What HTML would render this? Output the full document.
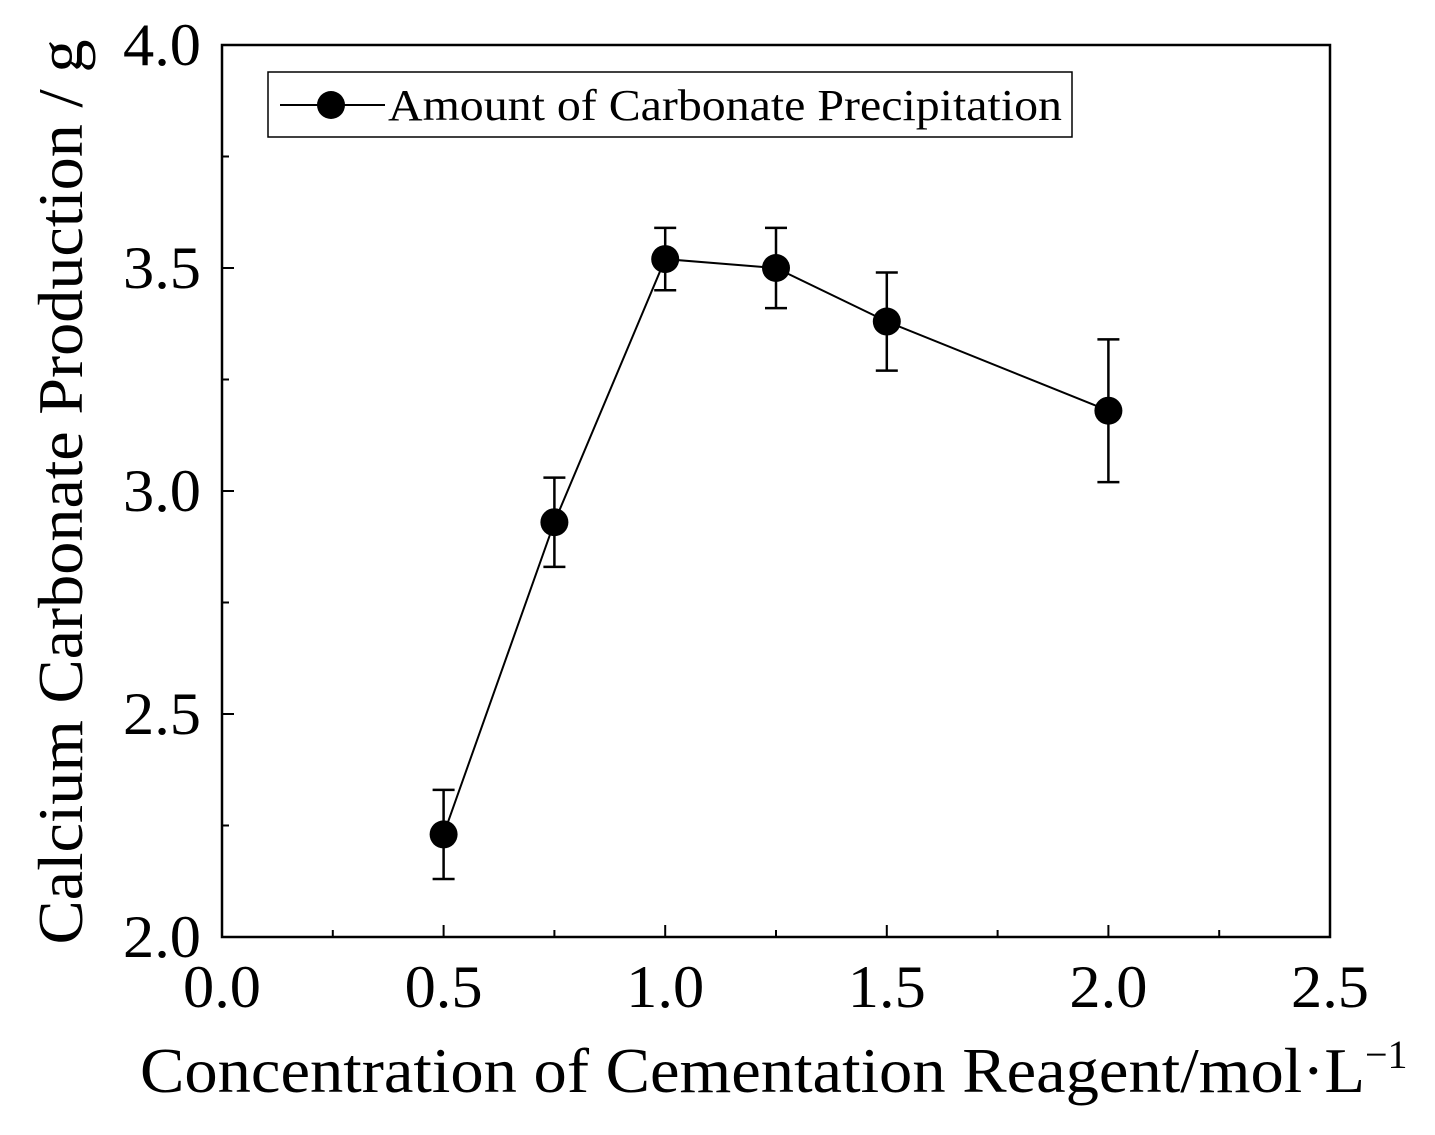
<!DOCTYPE html>
<html><head><meta charset="utf-8"><style>
html,body{margin:0;padding:0;background:#fff}
svg{display:block;font-family:"Liberation Serif",serif}
</style></head><body>
<svg width="1435" height="1135" viewBox="0 0 1435 1135">
<g id="plot"></g>
</svg>
<script>
const xs = [0.5, 0.75, 1.0, 1.25, 1.5, 2.0];
const ys = [2.23, 2.93, 3.52, 3.50, 3.38, 3.18];
const errs = [0.10, 0.10, 0.07, 0.09, 0.11, 0.16];
const xTicks = ["0.0","0.5","1.0","1.5","2.0","2.5"];
const yTicks = ["2.0","2.5","3.0","3.5","4.0"];
const L=222,R=1330,T=45,B=937;
const sx=v=>L+(v-0)/2.5*(R-L);
const sy=v=>B-(v-2)/2*(B-T);
const NS="http://www.w3.org/2000/svg";
const g=document.getElementById('plot');
function mk(tag,attrs,parent){const e=document.createElementNS(NS,tag);for(const k in attrs)e.setAttribute(k,attrs[k]);(parent||g).appendChild(e);return e;}
const frame=mk('rect',{x:L,y:T,width:R-L,height:B-T,fill:'none',stroke:'#000','stroke-width':2.5});


for(let i=0;i<=10;i++){const v=i*0.25;const X=sx(v);const len=i%2==0?12:7;
 const t=mk('line',{x1:X,y1:B,x2:X,y2:B-len,stroke:'#000','stroke-width':2});
 
 }
xTicks.forEach(s=>{const t=mk('text',{x:sx(parseFloat(s)),y:1007,'text-anchor':'middle','font-size':60,textLength:78,lengthAdjust:'spacingAndGlyphs'});t.textContent=s;
 
 });
for(let i=0;i<=8;i++){const v=2+i*0.25;const Y=sy(v);const len=i%2==0?12:7;
 const t=mk('line',{x1:L,y1:Y,x2:L+len,y2:Y,stroke:'#000','stroke-width':2});
 
 }
yTicks.forEach(s=>{const t=mk('text',{x:201,y:sy(parseFloat(s))+20,'text-anchor':'end','font-size':60,textLength:78,lengthAdjust:'spacingAndGlyphs'});t.textContent=s;
 
 });
const pts=xs.map((x,i)=>sx(x)+','+sy(ys[i])).join(' ');
const pl=mk('polyline',{points:pts,fill:'none',stroke:'#000','stroke-width':2});


xs.forEach((x,i)=>{const X=sx(x);
 const e=mk('path',{d:`M${X},${sy(ys[i]+errs[i])}V${sy(ys[i]-errs[i])}M${X-11},${sy(ys[i]+errs[i])}h22M${X-11},${sy(ys[i]-errs[i])}h22`,stroke:'#000','stroke-width':2.5,fill:'none'});
 
 
 const c=mk('circle',{cx:X,cy:sy(ys[i]),r:14,fill:'#000'});
 
 });
const lg=mk('g',{});


mk('rect',{x:268,y:72,width:804,height:65,fill:'#fff',stroke:'#000','stroke-width':1.5},lg);
mk('line',{x1:280,y1:105,x2:385,y2:105,stroke:'#000','stroke-width':2},lg);
mk('circle',{cx:331,cy:105,r:14,fill:'#000'},lg);
const lt=mk('text',{x:388,y:120,'font-size':44,textLength:674,lengthAdjust:'spacingAndGlyphs'},lg);lt.textContent='Amount of Carbonate Precipitation';
const xt=mk('text',{x:140,y:1092,'font-size':64});


xt.innerHTML='<tspan textLength="1225" lengthAdjust="spacingAndGlyphs">Concentration of Cementation Reagent/mol·L</tspan><tspan dy="-24" font-size="40">−1</tspan>';
const yt=mk('text',{x:0,y:0,'text-anchor':'middle','font-size':64,textLength:905,lengthAdjust:'spacingAndGlyphs',transform:'translate(82,492) rotate(-90)'});


yt.textContent='Calcium Carbonate Production / g';
</script>
</body></html>
